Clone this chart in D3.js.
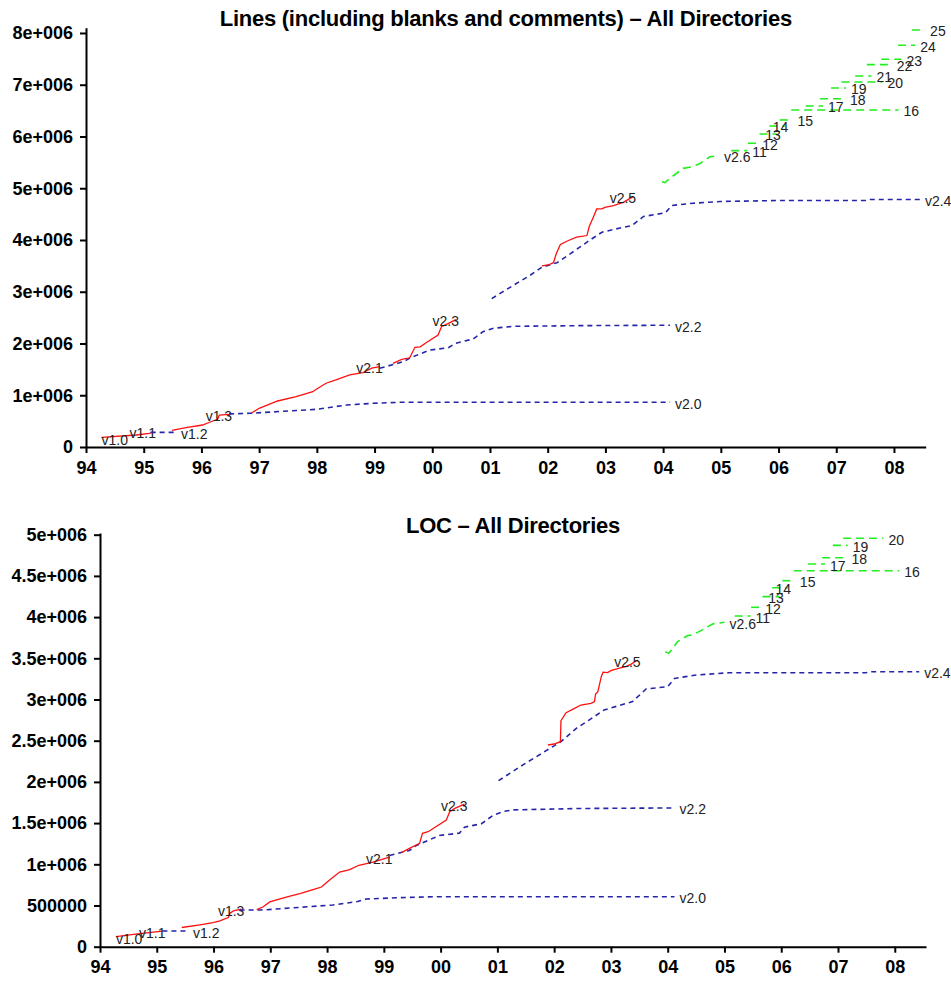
<!DOCTYPE html>
<html>
<head>
<meta charset="utf-8">
<script src="https://cdn.jsdelivr.net/npm/d3@7"></script>
<style>
  body { margin: 0; background: #fff; }
  svg { display: block; }
</style>
</head>
<body>
<svg id="chart" width="951" height="983"></svg>
<script>
// ---------- axis ticks ----------
const yearTicks = [1994, 1995, 1996, 1997, 1998, 1999, 2000, 2001, 2002, 2003, 2004, 2005, 2006, 2007, 2008];
const yearTickLabels = ["94", "95", "96", "97", "98", "99", "00", "01", "02", "03", "04", "05", "06", "07", "08"];
const linesTicks = [0, 1e6, 2e6, 3e6, 4e6, 5e6, 6e6, 7e6, 8e6];
const linesTickLabels = ["0", "1e+006", "2e+006", "3e+006", "4e+006", "5e+006", "6e+006", "7e+006", "8e+006"];
const locTicks = [0, 5e5, 1e6, 1.5e6, 2e6, 2.5e6, 3e6, 3.5e6, 4e6, 4.5e6, 5e6];
const locTickLabels = ["0", "500000", "1e+006", "1.5e+006", "2e+006", "2.5e+006", "3e+006", "3.5e+006", "4e+006", "4.5e+006", "5e+006"];

// ---------- total lines per tree: [year, lines] ----------
const linesV11dev = [[1994.27, 187000], [1994.87, 232000], [1995.10, 265000], [1995.16, 290000]];
const linesV11 = [[1995.12, 283000], [1995.56, 283000]];
const linesV13dev = [[1995.49, 322000], [1995.73, 373000], [1996.02, 425000], [1996.14, 478000], [1996.28, 535000], [1996.31, 618000], [1996.48, 632000]];
const linesV20 = [[1996.48, 640000], [1996.84, 651000], [1998.00, 729000], [1998.52, 812000], [1998.97, 844000], [1999.44, 864000], [2004.12, 864000]];
const linesV21dev = [[1996.86, 651000], [1997.00, 748000], [1997.32, 889000], [1997.64, 972000], [1997.93, 1069000], [1997.99, 1116000], [1998.16, 1232000], [1998.33, 1295000], [1998.57, 1393000], [1998.80, 1438000], [1998.95, 1523000], [1999.09, 1555000]];
const linesV22 = [[1999.09, 1521000], [1999.50, 1649000], [1999.64, 1734000], [1999.96, 1874000], [2000.28, 1919000], [2000.40, 2003000], [2000.71, 2087000], [2000.88, 2228000], [2001.06, 2293000], [2001.40, 2332000], [2002.56, 2345000], [2004.12, 2353000]];
const linesV23dev = [[1999.32, 1617000], [1999.47, 1694000], [1999.61, 1724000], [1999.70, 1926000], [1999.79, 1935000], [1999.90, 2018000], [2000.10, 2164000], [2000.16, 2325000], [2000.28, 2389000], [2000.41, 2462000]];
const linesV24 = [[2001.03, 2867000], [2001.40, 3121000], [2001.69, 3314000], [2001.90, 3475000], [2002.16, 3560000], [2002.39, 3733000], [2002.74, 4004000], [2002.94, 4150000], [2003.14, 4203000], [2003.46, 4280000], [2003.66, 4454000], [2004.04, 4525000], [2004.15, 4667000], [2004.52, 4710000], [2004.99, 4744000], [2006.03, 4763000], [2007.53, 4763000], [2007.58, 4783000], [2008.45, 4783000]];
const linesV25dev = [[2001.90, 3498000], [2002.01, 3517000], [2002.10, 3562000], [2002.15, 3740000], [2002.22, 3912000], [2002.36, 3990000], [2002.50, 4054000], [2002.68, 4086000], [2002.72, 4260000], [2002.79, 4440000], [2002.85, 4600000], [2002.94, 4600000], [2002.99, 4630000], [2003.14, 4665000], [2003.31, 4728000], [2003.48, 4839000]];
const linesV26 = [[2003.98, 5126000], [2004.03, 5110000], [2004.15, 5220000], [2004.35, 5384000], [2004.50, 5416000], [2004.64, 5478000], [2004.81, 5608000], [2004.97, 5628000]];

// ---------- lines of code per tree: [year, loc] ----------
const locV11dev = [[1994.28, 121000], [1994.59, 150000], [1995.10, 190000]];
const locV11 = [[1995.10, 190000], [1995.55, 190000]];
const locV13dev = [[1995.44, 233000], [1995.76, 265000], [1995.99, 293000], [1996.11, 313000], [1996.26, 353000], [1996.29, 406000], [1996.35, 434000], [1996.49, 455000]];
const locV20 = [[1996.46, 446000], [1996.87, 446000], [1998.10, 506000], [1998.52, 546000], [1998.69, 579000], [1999.28, 595000], [1999.86, 607000], [2004.12, 607000]];
const locV21dev = [[1996.76, 451000], [1996.87, 482000], [1996.99, 543000], [1997.28, 603000], [1997.52, 644000], [1997.81, 705000], [1997.90, 724000], [1998.05, 813000], [1998.22, 906000], [1998.40, 935000], [1998.56, 988000], [1998.81, 1027000], [1999.10, 1088000]];
const locV22 = [[1999.10, 1107000], [1999.45, 1168000], [1999.57, 1228000], [1999.98, 1350000], [2000.33, 1378000], [2000.42, 1451000], [2000.72, 1492000], [2000.92, 1593000], [2001.10, 1641000], [2001.27, 1660000], [2002.44, 1677000], [2004.12, 1684000]];
const locV23dev = [[1999.31, 1141000], [1999.45, 1194000], [1999.57, 1234000], [1999.63, 1254000], [1999.68, 1376000], [1999.78, 1395000], [2000.10, 1537000], [2000.16, 1638000], [2000.25, 1679000], [2000.42, 1731000]];
const locV24 = [[2001.02, 2015000], [2001.45, 2206000], [2001.83, 2367000], [2002.12, 2488000], [2002.39, 2650000], [2002.62, 2752000], [2002.88, 2873000], [2003.38, 2974000], [2003.62, 3128000], [2004.00, 3156000], [2004.12, 3256000], [2004.50, 3297000], [2005.08, 3325000], [2007.49, 3325000], [2007.58, 3337000], [2008.43, 3337000]];
const locV25dev = [[2001.89, 2448000], [2002.00, 2460000], [2002.11, 2488000], [2002.12, 2743000], [2002.21, 2840000], [2002.36, 2893000], [2002.47, 2933000], [2002.65, 2954000], [2002.71, 2974000], [2002.73, 3067000], [2002.77, 3095000], [2002.83, 3277000], [2002.86, 3331000], [2002.94, 3326000], [2003.00, 3350000], [2003.15, 3380000], [2003.26, 3398000], [2003.35, 3427000], [2003.47, 3479000]];
const locV26 = [[2003.96, 3580000], [2004.02, 3560000], [2004.09, 3620000], [2004.17, 3700000], [2004.35, 3775000], [2004.44, 3784000], [2004.61, 3845000], [2004.79, 3917000], [2005.00, 3937000]];

// ---------- 2.6.x stable releases ----------
const segNames = ["11", "12", "13", "14", "15", "16", "17", "18", "19", "20", "21", "22", "23", "24", "25"];
const segStart = [2005.18, 2005.47, 2005.67, 2005.84, 2006.02, 2006.22, 2006.47, 2006.72, 2006.91, 2007.09, 2007.33, 2007.53, 2007.78, 2008.07, 2008.31];
const segEnd = [2005.46, 2005.63, 2005.97, 2006.11, 2006.24, 2008.08, 2006.77, 2007.15, 2007.17, 2007.80, 2007.61, 2007.96, 2008.13, 2008.37, 2008.54];
const segLabelAt = [null, null, 2005.77, 2005.90, null, null, null, null, null, null, null, null, null, null, null];
const segLines = [5726000, 5869000, 6048000, 6203000, 6319000, 6512000, 6589000, 6730000, 6937000, 7053000, 7169000, 7388000, 7492000, 7762000, 8058000];
const segLoc = [4013000, 4119000, 4248000, 4357000, 4442000, 4563000, 4644000, 4721000, 4871000, 4956000];

// ---------- drawing ----------
const svg = d3.select("#chart");
svg.append("rect").attr("width", 951).attr("height", 983).attr("fill", "#fff");

const styles = {
  dev:    { stroke: "#ff1010", width: 1.3, dash: null },
  stable: { stroke: "#2525a8", width: 1.6, dash: "5,4" },
  next:   { stroke: "#22ee22", width: 1.6, dash: "8,5" }
};

function panel(cfg) {
  const g = svg.append("g");
  const x = d3.scaleLinear().domain([1994, 2008.55]).range([cfg.left, cfg.right]);
  const y = d3.scaleLinear().domain([0, cfg.ymax]).range([cfg.bottom, cfg.top]);

  // title
  g.append("text")
    .attr("x", (cfg.left + cfg.right) / 2)
    .attr("y", cfg.titleY)
    .attr("text-anchor", "middle")
    .attr("font-family", "'Liberation Sans', Arial, sans-serif")
    .attr("font-weight", "bold")
    .attr("font-size", 22)
    .attr("letter-spacing", "-0.25px")
    .attr("fill", "#000")
    .text(cfg.title);

  // axes
  const yAxis = d3.axisLeft(y).tickValues(cfg.yTicks)
    .tickFormat((d, i) => cfg.yLabels[i]).tickSize(6).tickSizeOuter(0).tickPadding(7);
  const xAxis = d3.axisBottom(x).tickValues(yearTicks)
    .tickFormat((d, i) => yearTickLabels[i]).tickSize(6).tickSizeOuter(0).tickPadding(8);

  const ya = g.append("g").attr("transform", `translate(${cfg.left},0)`).call(yAxis);
  const xa = g.append("g").attr("transform", `translate(0,${cfg.bottom})`).call(xAxis);
  [ya, xa].forEach(a => {
    a.selectAll("path.domain").attr("stroke", "#000").attr("stroke-width", 2);
    a.selectAll(".tick line").attr("stroke", "#000").attr("stroke-width", 2);
    a.selectAll(".tick text")
      .attr("font-family", "'Liberation Sans', Arial, sans-serif")
      .attr("font-weight", "bold")
      .attr("font-size", 18)
      .attr("fill", "#000");
  });

  const line = d3.line().x(d => x(d[0])).y(d => y(d[1]));
  const labelFont = "'Liberation Sans', Arial, sans-serif";

  function addLabel(px, py, txt, anchor) {
    g.append("text")
      .attr("x", px).attr("y", py)
      .attr("text-anchor", anchor)
      .attr("dominant-baseline", "central")
      .attr("font-family", labelFont)
      .attr("font-size", 14)
      .attr("fill", "#222")
      .text(txt);
  }

  // version series
  cfg.series.forEach(s => {
    const st = styles[s.kind];
    g.append("path")
      .attr("d", line(s.pts))
      .attr("fill", "none")
      .attr("stroke", st.stroke)
      .attr("stroke-width", st.width)
      .attr("stroke-dasharray", st.dash);
    const last = s.pts[s.pts.length - 1];
    const first = s.pts[0];
    if (s.label) {
      if (s.labelMode === "end") addLabel(x(last[0]) + 3, y(last[1]) + 1.5, s.label, "end");
      else addLabel(x(last[0]) + 5, y(last[1]) + 1.5, s.label, "start");
    }
    if (s.startLabel) addLabel(x(first[0]), y(first[1]) + 2.5, s.startLabel, "start");
  });

  // 2.6.x point releases
  cfg.segValues.forEach((v, i) => {
    const pts = [[segStart[i], v], [segEnd[i], v]];
    const st = styles.next;
    g.append("path")
      .attr("d", line(pts))
      .attr("fill", "none")
      .attr("stroke", st.stroke)
      .attr("stroke-width", st.width)
      .attr("stroke-dasharray", st.dash);
    const lx = segLabelAt[i] != null ? x(segLabelAt[i]) : x(segEnd[i]) + 5;
    addLabel(lx, y(v) + 1.5, segNames[i], "start");
  });
}

panel({
  title: "Lines (including blanks and comments) \u2013 All Directories",
  titleY: 26,
  left: 86, right: 925.7, top: 27.8, bottom: 447, ymax: 8.1e6,
  yTicks: linesTicks, yLabels: linesTickLabels,
  series: [
    { pts: linesV11dev, kind: "dev", label: "v1.1", labelMode: "end", startLabel: "v1.0" },
    { pts: linesV11, kind: "stable", label: "v1.2", labelMode: "after" },
    { pts: linesV13dev, kind: "dev", label: "v1.3", labelMode: "end" },
    { pts: linesV20, kind: "stable", label: "v2.0", labelMode: "after" },
    { pts: linesV21dev, kind: "dev", label: "v2.1", labelMode: "end" },
    { pts: linesV22, kind: "stable", label: "v2.2", labelMode: "after" },
    { pts: linesV23dev, kind: "dev", label: "v2.3", labelMode: "end" },
    { pts: linesV24, kind: "stable", label: "v2.4", labelMode: "after" },
    { pts: linesV25dev, kind: "dev", label: "v2.5", labelMode: "end" },
    { pts: linesV26, kind: "next", label: "v2.6", labelMode: "after" }
  ],
  segValues: segLines
});

panel({
  title: "LOC \u2013 All Directories",
  titleY: 533,
  left: 100, right: 926, top: 533.05, bottom: 946.7, ymax: 5.02e6,
  yTicks: locTicks, yLabels: locTickLabels,
  series: [
    { pts: locV11dev, kind: "dev", label: "v1.1", labelMode: "end", startLabel: "v1.0" },
    { pts: locV11, kind: "stable", label: "v1.2", labelMode: "after" },
    { pts: locV13dev, kind: "dev", label: "v1.3", labelMode: "end" },
    { pts: locV20, kind: "stable", label: "v2.0", labelMode: "after" },
    { pts: locV21dev, kind: "dev", label: "v2.1", labelMode: "end" },
    { pts: locV22, kind: "stable", label: "v2.2", labelMode: "after" },
    { pts: locV23dev, kind: "dev", label: "v2.3", labelMode: "end" },
    { pts: locV24, kind: "stable", label: "v2.4", labelMode: "after" },
    { pts: locV25dev, kind: "dev", label: "v2.5", labelMode: "end" },
    { pts: locV26, kind: "next", label: "v2.6", labelMode: "after" }
  ],
  segValues: segLoc
});
</script>
</body>
</html>
